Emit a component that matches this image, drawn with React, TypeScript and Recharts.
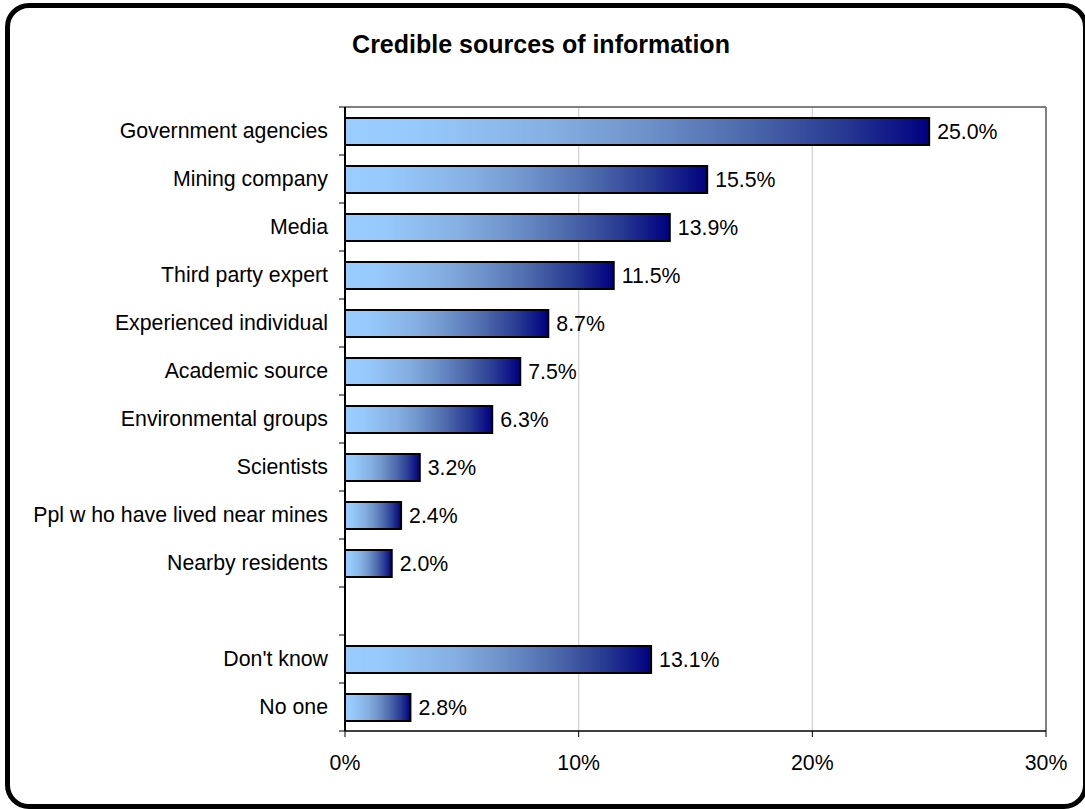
import React from 'react';
import { BarChart, Bar, XAxis, YAxis, CartesianGrid, LabelList, ReferenceLine } from 'recharts';

const categories = [
  'Government agencies',
  'Mining company',
  'Media',
  'Third party expert',
  'Experienced individual',
  'Academic source',
  'Environmental groups',
  'Scientists',
  'Ppl w ho have lived near mines',
  'Nearby residents',
  ' ',
  "Don't know",
  'No one',
];
const values: (number | null)[] = [25.0, 15.5, 13.9, 11.5, 8.7, 7.5, 6.3, 3.2, 2.4, 2.0, null, 13.1, 2.8];
const xTicks = [0, 10, 20, 30];

const data = categories.map((name, i) => ({ name, value: values[i] }));

const FONT = '"Liberation Sans", Arial, sans-serif';

const YTick = (props: any) => {
  const { x, y, payload, index, visibleTicksCount } = props;
  const off = payload && payload.offset != null ? payload.offset : 24;
  const ax = x + 17;
  const isLast = index === (visibleTicksCount ?? categories.length) - 1;
  return (
    <g>
      <line x1={ax - 6} x2={ax} y1={y - off} y2={y - off} stroke="#000" strokeWidth={1} />
      {isLast && <line x1={ax - 6} x2={ax} y1={y + off} y2={y + off} stroke="#000" strokeWidth={1} />}
      <text x={x} y={y} dy="0.35em" textAnchor="end" fontSize={21.3} fill="#000" fontFamily={FONT}>
        {payload.value}
      </text>
    </g>
  );
};

export default function App() {
  return (
    <div style={{ position: 'absolute', left: 0, top: 0, width: 1085, height: 809, background: '#fff', overflow: 'hidden', fontFamily: FONT }}>
      <div
        style={{
          position: 'absolute',
          left: 5,
          top: 3,
          width: 1083,
          height: 806,
          border: '5px solid #000',
          borderRadius: 24,
          boxSizing: 'border-box',
          background: '#fff',
        }}
      />
      <div
        style={{
          position: 'absolute',
          left: 0,
          top: 32,
          width: 1082,
          textAlign: 'center',
          fontSize: 25,
          lineHeight: '25px',
          fontWeight: 'bold',
          color: '#000',
        }}
      >
        Credible sources of information
      </div>
      <div style={{ position: 'absolute', left: 0, top: 0 }}>
        <BarChart
          layout="vertical"
          width={1085}
          height={809}
          data={data}
          margin={{ top: 107, right: 39, bottom: 0, left: 0 }}
        >
          <defs>
            <linearGradient id="barGrad" x1="0" y1="0" x2="1" y2="0">
              <stop offset="0" stopColor="#99ccff" />
              <stop offset="0.12" stopColor="#97c9fc" />
              <stop offset="0.35" stopColor="#86afe2" />
              <stop offset="0.5" stopColor="#7095cc" />
              <stop offset="0.68" stopColor="#4f6bad" />
              <stop offset="0.85" stopColor="#283a92" />
              <stop offset="1" stopColor="#000080" />
            </linearGradient>
          </defs>
          <CartesianGrid horizontal={false} vertical stroke="#d6d6d6" strokeWidth={1.5} />
          <CartesianGrid
            vertical={false}
            horizontal
            stroke="#808080"
            strokeWidth={2}
            horizontalCoordinatesGenerator={(p: any) => [p.offset.top]}
          />
          <XAxis
            type="number"
            domain={[0, 30]}
            ticks={xTicks}
            tickFormatter={(v: number) => `${v}%`}
            height={78}
            tickSize={6}
            tickMargin={18}
            tickLine={{ stroke: '#000' }}
            axisLine={{ stroke: '#000', strokeWidth: 1.5 }}
            tick={{ fontSize: 21.3, fill: '#000', fontFamily: FONT }}
            interval={0}
          />
          <YAxis
            type="category"
            dataKey="name"
            width={345}
            tickSize={6}
            tickMargin={11}
            tickLine={false}
            axisLine={{ stroke: '#000', strokeWidth: 2 }}
            tick={<YTick />}
            interval={0}
          />
          <ReferenceLine x={30} stroke="#808080" strokeWidth={2} />
          <Bar dataKey="value" barSize={27} fill="url(#barGrad)" stroke="#000" strokeWidth={2} isAnimationActive={false}>
            <LabelList
              dataKey="value"
              position="right"
              offset={8}
              fontSize={21.3}
              fill="#000"
              fontFamily={FONT}
              formatter={(v: any) => (v == null ? '' : `${Number(v).toFixed(1)}%`)}
            />
          </Bar>
        </BarChart>
      </div>
    </div>
  );
}
